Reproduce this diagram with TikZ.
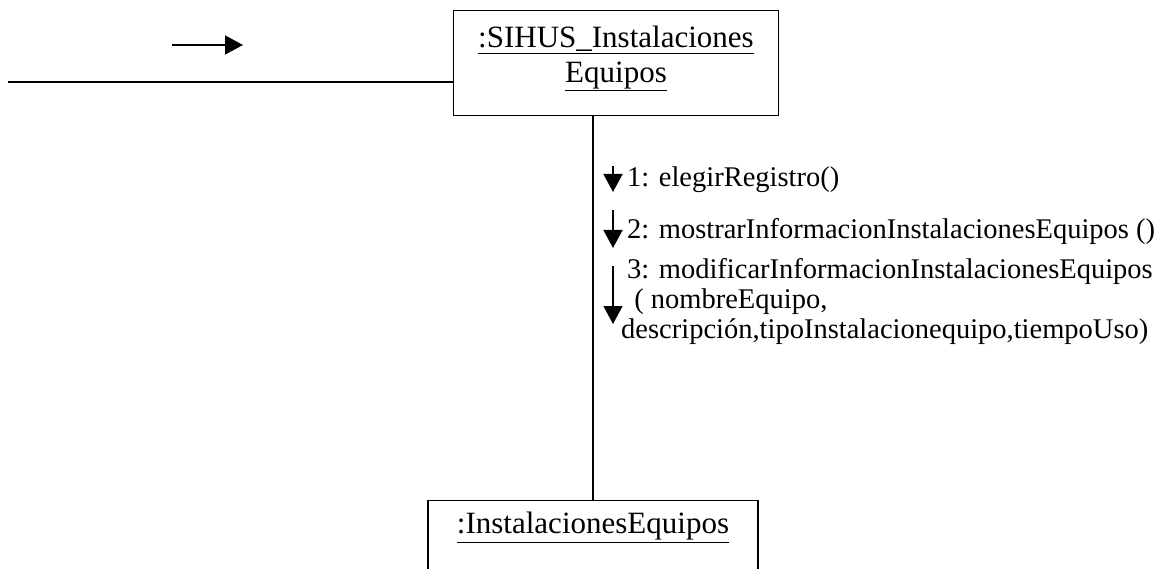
\documentclass[tikz,border=0pt]{standalone}
\usepackage{fontspec}
\setmainfont{Liberation Serif}
\usetikzlibrary{arrows.meta,positioning}

\begin{document}
\begin{tikzpicture}[
  x=1pt, y=-1pt,
  objbox/.style = {draw, line width=1.4pt, align=center, font=\fontsize{31}{35}\selectfont},
  msglabel/.style = {anchor=west, align=left, inner sep=0pt, font=\fontsize{28.5}{30}\selectfont},
  msg/.style = {-{Triangle[length=18pt, width=19pt]}, line width=1.4pt},
  link/.style = {line width=1.4pt}
]
\useasboundingbox (0,0) rectangle (1169,569);

% objects
\node[objbox, anchor=north, minimum width=325pt, inner ysep=0pt,
  text height=72pt, text depth=33pt] (sihus) at (616,10)
  {\underline{:SIHUS\_Instalaciones}\\\underline{Equipos}};
\node[objbox, anchor=north, minimum width=330pt, inner ysep=8pt,
  text height=25pt, text depth=60pt] (inst) at (593,500)
  {\underline{:InstalacionesEquipos}};

% actor link and incoming message
\coordinate (actor) at (8,82);
\draw[link] (actor) -- (actor -| sihus.west);
\coordinate (in1) at (172,45);
\coordinate (in2) at (243,45);
\draw[msg] (in1) -- (in2);

% link between objects
\draw[link] (inst.north) -- (inst.north |- sihus.south);

% messages
\coordinate (m1a) at (613,166);
\coordinate (m1b) at (613,192);
\draw[msg] (m1a) -- (m1b);
\node[msglabel] (l1) at (627,180) {1: elegirRegistro()};

\coordinate (m2a) at (613,210);
\coordinate (m2b) at (613,248);
\draw[msg] (m2a) -- (m2b);
\node[msglabel] (l2) at (627,232) {2: mostrarInformacionInstalacionesEquipos ()};

\coordinate (m3a) at (613,266);
\coordinate (m3b) at (613,324);
\draw[msg] (m3a) -- (m3b);
\node[msglabel, anchor=north west] (l3) at (621,258)
  {\hspace*{6pt}3: modificarInformacionInstalacionesEquipos\\
   \hspace*{6pt} ( nombreEquipo,\\
   descripción,tipoInstalacionequipo,tiempoUso)};
\end{tikzpicture}
\end{document}
